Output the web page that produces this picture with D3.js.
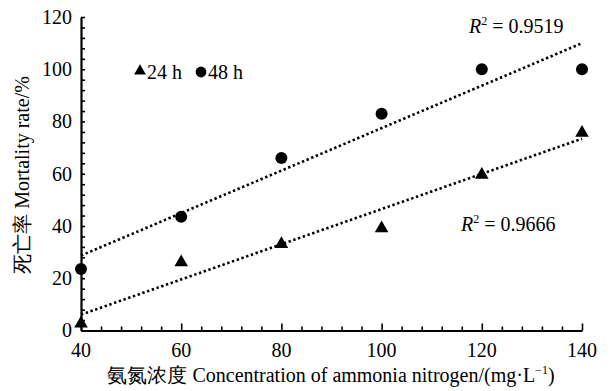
<!DOCTYPE html>
<html>
<head>
<meta charset="utf-8">
<script src="https://cdn.jsdelivr.net/npm/d3@7"></script>
<style>
  html, body { margin: 0; padding: 0; background: #fff; }
  svg { display: block; font-family: "Liberation Serif", "Times New Roman", serif; }
  .tick-label { font-size: 20px; fill: #000; }
</style>
</head>
<body>
<svg id="chart" width="614" height="391"></svg>
<script>
// ammonia nitrogen concentration (mg/L) vs mortality (%)
const conc = [40, 60, 80, 100, 120, 140];
const mort24 = [3, 26.5, 33.5, 39.5, 60, 76];
const mort48 = [23.5, 43.5, 66, 83, 100, 100];
const r2Labels = ["0.9519", "0.9666"]; // 48 h, 24 h
const xTicks = [40, 60, 80, 100, 120, 140];
const yTicks = [0, 20, 40, 60, 80, 100, 120];

const svg = d3.select("#chart");
const x = d3.scaleLinear().domain([40, 140]).range([81, 582]);
const y = d3.scaleLinear().domain([0, 120]).range([330.5, 17]);

// least squares, for the dotted trend lines
function fit(xs, ys) {
  const mx = d3.mean(xs), my = d3.mean(ys);
  const sxy = d3.sum(xs, (v, i) => (v - mx) * (ys[i] - my));
  const sxx = d3.sum(xs, (v) => (v - mx) * (v - mx));
  const b = sxy / sxx;
  return (v) => my + b * (v - mx);
}

// ----- axes -----
const minorX = d3.range(40, 141, 4).filter((v) => v % 20 !== 0);
const minorY = d3.range(0, 121, 4).filter((v) => v % 20 !== 0);

const gx = svg.append("g").attr("transform", `translate(0,${y(0)})`);
gx.call(d3.axisTop(x).tickValues(minorX).tickSize(4).tickFormat(""));
gx.call((g) => g.select(".domain").remove());
const gx2 = svg.append("g").attr("transform", `translate(0,${y(0)})`)
  .call(d3.axisTop(x).tickValues(xTicks).tickSize(7).tickSizeOuter(0).tickFormat(""));
gx2.select(".domain").attr("stroke-width", 2.2);
svg.selectAll("g .tick line").attr("stroke", "#000").attr("stroke-width", 1.6);
svg.append("g").selectAll("text").data(xTicks).join("text")
  .attr("class", "tick-label").attr("x", (d) => x(d)).attr("y", 357)
  .attr("text-anchor", "middle").text((d) => d);

const gy = svg.append("g").attr("transform", `translate(${x(40)},0)`);
gy.call(d3.axisRight(y).tickValues(minorY).tickSize(4).tickFormat(""));
gy.select(".domain").remove();
const gy2 = svg.append("g").attr("transform", `translate(${x(40)},0)`)
  .call(d3.axisRight(y).tickValues(yTicks).tickSize(4).tickSizeOuter(0).tickFormat(""));
gy2.select(".domain").attr("stroke-width", 2.2);
svg.selectAll("g .tick line").attr("stroke", "#000").attr("stroke-width", 1.6);
svg.append("g").selectAll("text").data(yTicks).join("text")
  .attr("class", "tick-label").attr("x", 72).attr("y", (d) => y(d))
  .attr("dy", "0.34em").attr("text-anchor", "end").text((d) => d);

// ----- trend lines -----
const line = d3.line().x((d) => x(d[0])).y((d) => y(d[1]));
[mort48, mort24].forEach((ys) => {
  const f = fit(conc, ys);
  svg.append("path")
    .attr("d", line([[40, f(40)], [140, f(140)]]))
    .attr("fill", "none").attr("stroke", "#000")
    .attr("stroke-width", 2.6).attr("stroke-dasharray", "2.4,2.6");
});

// ----- points -----
const tri = d3.symbol().type(d3.symbolTriangle).size(80);
svg.append("g").selectAll("path").data(conc).join("path")
  .attr("d", tri).attr("fill", "#000")
  .attr("transform", (d, i) => `translate(${x(d)},${y(mort24[i]) + 1})`);
svg.append("g").selectAll("circle").data(conc).join("circle")
  .attr("cx", (d) => x(d)).attr("cy", (d, i) => y(mort48[i]))
  .attr("r", 6).attr("fill", "#000");

// ----- legend -----
svg.append("path").attr("d", d3.symbol().type(d3.symbolTriangle).size(60))
  .attr("fill", "#000").attr("transform", "translate(140,71)");
svg.append("text").attr("class", "tick-label").attr("x", 147).attr("y", 79).text("24 h");
svg.append("circle").attr("cx", 201).attr("cy", 72).attr("r", 5.4).attr("fill", "#000");
svg.append("text").attr("class", "tick-label").attr("x", 208).attr("y", 79).text("48 h");

// ----- R² labels -----
function r2(xp, yp, val) {
  const t = svg.append("text").attr("class", "tick-label").attr("x", xp).attr("y", yp);
  t.append("tspan").attr("font-style", "italic").text("R");
  t.append("tspan").attr("font-size", 12).attr("dy", -8).text("2");
  t.append("tspan").attr("dy", 8).text(" = " + val);
}
r2(469, 33, r2Labels[0]);
r2(461, 231, r2Labels[1]);

// ----- axis titles -----
const xt = svg.append("text").attr("class", "tick-label").attr("x", 331).attr("y", 382)
  .attr("text-anchor", "middle").attr("font-size", 20);
xt.append("tspan").text("氨氮浓度 Concentration of ammonia nitrogen/(mg·L");
xt.append("tspan").attr("font-size", 12).attr("dy", -8).text("−1");
xt.append("tspan").attr("dy", 8).text(")");

svg.append("text").attr("class", "tick-label").attr("font-size", 19)
  .attr("transform", "translate(29,175) rotate(-90)")
  .attr("text-anchor", "middle").text("死亡率 Mortality rate/%");
</script>
</body>
</html>
